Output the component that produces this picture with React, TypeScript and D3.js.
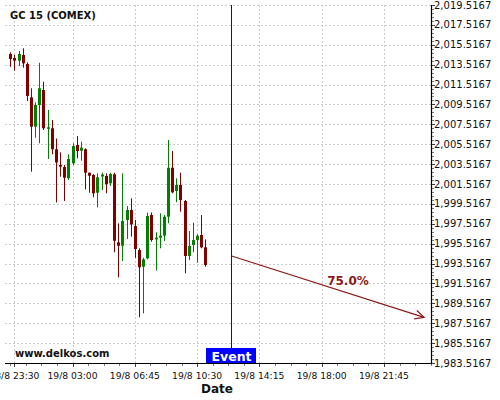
import React from "react";
import * as d3 from "d3";

const title = "GC 15 (COMEX)";
const watermark = "www.delkos.com";
const xAxisTitle = "Date";
const eventLabel = "Event";
const arrowLabel = "75.0%";

const firstCandle = "2023-08-18T23:15";
const candleMinutes = 15;
const opens = [2014.59, 2014.19, 2013.92, 2014.49, 2013.58, 2010.23, 2007.28, 2009.46, 2010.97, 2007.17,
  2007.12, 2005.01, 2003.43, 2003.23, 2002.09, 2003.60, 2005.44, 2004.86, 2005.01, 2002.65,
  2002.42, 2000.64, 2002.27, 2002.32, 2001.59, 2002.49, 1995.65, 1995.31, 1997.90, 1998.90,
  1997.29, 1994.88, 1993.20, 1994.04, 1998.40, 1995.95, 1996.12, 1996.32, 1998.23, 2003.15,
  2000.81, 2001.42, 1999.81, 1994.28, 1995.38, 1995.88, 1996.39, 1995.15];
const highs = [2014.76, 2014.49, 2014.89, 2015.16, 2013.75, 2011.14, 2009.73, 2013.71, 2011.80, 2008.96,
  2007.95, 2006.09, 2004.70, 2003.43, 2004.50, 2005.61, 2006.34, 2005.77, 2005.11, 2002.65,
  2002.52, 2002.59, 2002.65, 2002.59, 2002.65, 2002.65, 1997.56, 2002.59, 1999.30, 2000.08,
  1997.90, 1995.05, 1994.10, 1998.63, 1998.65, 1996.66, 1998.57, 1998.40, 2005.94, 2004.83,
  2002.09, 2002.65, 1999.91, 1996.79, 1997.62, 1996.46, 1998.40, 1995.95];
const lows = [2013.31, 2012.91, 2013.38, 2013.21, 2009.86, 2002.75, 2006.17, 2005.61, 2006.95, 2004.03,
  2004.50, 1999.66, 2002.25, 1999.81, 2001.92, 2003.43, 2004.10, 2003.86, 2000.98, 2000.64,
  2000.18, 1999.17, 2000.91, 2000.58, 2001.34, 1994.65, 1992.13, 1993.77, 1995.98, 1996.22,
  1994.10, 1988.11, 1988.51, 1993.94, 1995.71, 1992.80, 1995.05, 1995.78, 1997.56, 2000.58,
  1999.68, 1998.73, 1992.54, 1993.87, 1994.65, 1993.60, 1995.05, 1993.20];
const closes = [2014.09, 2013.92, 2014.59, 2013.65, 2010.37, 2007.28, 2009.46, 2011.14, 2007.12, 2007.22,
  2005.01, 2003.68, 2003.26, 2002.15, 2004.03, 2005.34, 2004.83, 2005.17, 2002.65, 2002.35,
  2000.58, 2002.19, 2002.47, 2001.49, 2002.52, 1995.81, 1995.31, 1997.79, 1998.90, 1997.46,
  1994.98, 1993.14, 1993.94, 1998.30, 1995.88, 1996.12, 1996.32, 1998.23, 2003.15, 2000.68,
  2001.42, 1999.91, 1994.28, 1995.28, 1995.88, 1996.32, 1995.15, 1993.37];

const xDomain = ["2023-08-18T22:56", "2023-08-20T00:35"];
const xTickTimes = ["2023-08-18T23:30", "2023-08-19T03:00", "2023-08-19T06:45", "2023-08-19T10:30",
  "2023-08-19T14:15", "2023-08-19T18:00", "2023-08-19T21:45"];
const yDomain = [1983.5167, 2019.5167];
const yTickValues = [1983.5167, 1985.5167, 1987.5167, 1989.5167, 1991.5167, 1993.5167, 1995.5167,
  1997.5167, 1999.5167, 2001.5167, 2003.5167, 2005.5167, 2007.5167, 2009.5167, 2011.5167,
  2013.5167, 2015.5167, 2017.5167, 2019.5167];

const eventTime = "2023-08-19T12:32";
const arrowStart = { time: "2023-08-19T12:32", price: 1994.3 };
const arrowEnd = { time: "2023-08-20T00:10", price: 1988.1 };

const parse = d3.utcParse("%Y-%m-%dT%H:%M");
const fmtX = d3.utcFormat("%-d/%-m %H:%M");
const fmtY = d3.format(",.4f");

const W = 500, H = 400;
const L = 5, R = 431, T = 5, B = 363;
const FONT = "DejaVu Sans, Verdana, sans-serif";
const UP = "#008000", DOWN = "#800000", ARROW = "#8b1a1a";

export default function App() {
  const x = d3.scaleUtc().domain(xDomain.map((s) => parse(s) as Date)).range([L, R]);
  const y = d3.scaleLinear().domain(yDomain).range([B, T]);
  const t0 = parse(firstCandle) as Date;
  const candles = opens.map((o, i) => ({
    t: d3.utcMinute.offset(t0, i * candleMinutes),
    o, h: highs[i], l: lows[i], c: closes[i],
  }));
  const xTicks = xTickTimes.map((s) => parse(s) as Date);
  const step = +xTicks[2] - +xTicks[1];
  const xMinor: number[] = [];
  for (let m = +xTicks[1] - 2 * step; m < +x.domain()[1]; m += step / 4) {
    const px = x(new Date(m));
    if (px >= L && px <= R) xMinor.push(px);
  }
  const yMinor: number[] = [];
  for (let v = yDomain[0]; v <= yDomain[1] + 1e-6; v += 0.4) yMinor.push(y(v));

  const ex = Math.round(x(parse(eventTime) as Date)) + 0.5;
  const ax1 = x(parse(arrowStart.time) as Date), ay1 = y(arrowStart.price);
  const ax2 = x(parse(arrowEnd.time) as Date), ay2 = y(arrowEnd.price);
  const ang = Math.atan2(ay2 - ay1, ax2 - ax1);
  const hl = 10, ha = 0.45;
  const h1 = [ax2 - hl * Math.cos(ang - ha), ay2 - hl * Math.sin(ang - ha)];
  const h2 = [ax2 - hl * Math.cos(ang + ha), ay2 - hl * Math.sin(ang + ha)];

  return (
    <svg width={W} height={H} style={{ position: "absolute", left: 0, top: 0, background: "#fff" }}
      fontFamily={FONT}>
      <rect x={0} y={0} width={W} height={H} fill="#fff" />
      {yTickValues.map((v, i) => (
        <line key={"gy" + i} x1={L} x2={R} y1={Math.round(y(v)) + 0.5} y2={Math.round(y(v)) + 0.5}
          stroke="#cccccc" strokeDasharray="2,2" />
      ))}
      {xTicks.map((t, i) => (
        <line key={"gx" + i} x1={Math.round(x(t)) + 0.5} x2={Math.round(x(t)) + 0.5} y1={T} y2={B}
          stroke="#cccccc" strokeDasharray="2,2" />
      ))}
      {candles.map((d, i) => {
        const cx = Math.round(x(d.t));
        const col = d.c >= d.o ? UP : DOWN;
        const top = y(Math.max(d.o, d.c));
        const bot = y(Math.min(d.o, d.c));
        return (
          <g key={"c" + i}>
            <line x1={cx + 0.5} x2={cx + 0.5} y1={y(d.h)} y2={y(d.l)} stroke={col} strokeWidth={1} />
            <rect x={cx - 1} y={top} width={3} height={Math.max(1.5, bot - top)} fill={col} />
          </g>
        );
      })}
      <text x={10} y={19} fontSize={10} fontWeight="bold" fill="#111">{title}</text>
      <text x={15} y={357} fontSize={10} fontWeight="bold" fill="#111">{watermark}</text>
      <line x1={ex} x2={ex} y1={T} y2={348} stroke="#0000ff" strokeWidth={1} />
      <rect x={ex - 25.5} y={348} width={50} height={15} fill="#0000ff" />
      <text x={ex} y={361} fontSize={12.5} fontWeight="bold" fill="#fff" textAnchor="middle">{eventLabel}</text>
      <line x1={ax1} y1={ay1} x2={ax2} y2={ay2} stroke={ARROW} strokeWidth={1.2} />
      <polyline points={`${h1[0]},${h1[1]} ${ax2},${ay2} ${h2[0]},${h2[1]}`} fill="none" stroke={ARROW} strokeWidth={1.2} />
      <text x={348} y={285} fontSize={12} fontWeight="bold" fill={ARROW} textAnchor="middle">{arrowLabel}</text>
      <line x1={L} x2={R} y1={B + 0.5} y2={B + 0.5} stroke="#000" strokeWidth={1} />
      {xMinor.map((px, i) => (
        <line key={"xm" + i} x1={Math.round(px) + 0.5} x2={Math.round(px) + 0.5} y1={B + 1} y2={B + 3} stroke="#777" />
      ))}
      {xTicks.map((t, i) => (
        <g key={"xt" + i}>
          <line x1={Math.round(x(t)) + 0.5} x2={Math.round(x(t)) + 0.5} y1={B + 1} y2={B + 4} stroke="#444" />
          <text x={x(t)} y={379} fontSize={9.2} textAnchor="middle" fill="#111">{fmtX(t)}</text>
        </g>
      ))}
      <text x={217} y={393} fontSize={12} fontWeight="bold" textAnchor="middle" fill="#111">{xAxisTitle}</text>
      <line x1={R + 0.5} x2={R + 0.5} y1={T} y2={B + 1} stroke="#000" strokeWidth={1.2} />
      {yMinor.map((py, i) => (
        <line key={"ym" + i} x1={R + 1} x2={R + 3} y1={Math.round(py) + 0.5} y2={Math.round(py) + 0.5} stroke="#777" />
      ))}
      {yTickValues.map((v, i) => (
        <g key={"yt" + i}>
          <line x1={R + 1} x2={R + 4} y1={Math.round(y(v)) + 0.5} y2={Math.round(y(v)) + 0.5} stroke="#444" />
          <text x={434} y={y(v)} dy="0.35em" fontSize={10} fill="#111">{fmtY(v)}</text>
        </g>
      ))}
    </svg>
  );
}
